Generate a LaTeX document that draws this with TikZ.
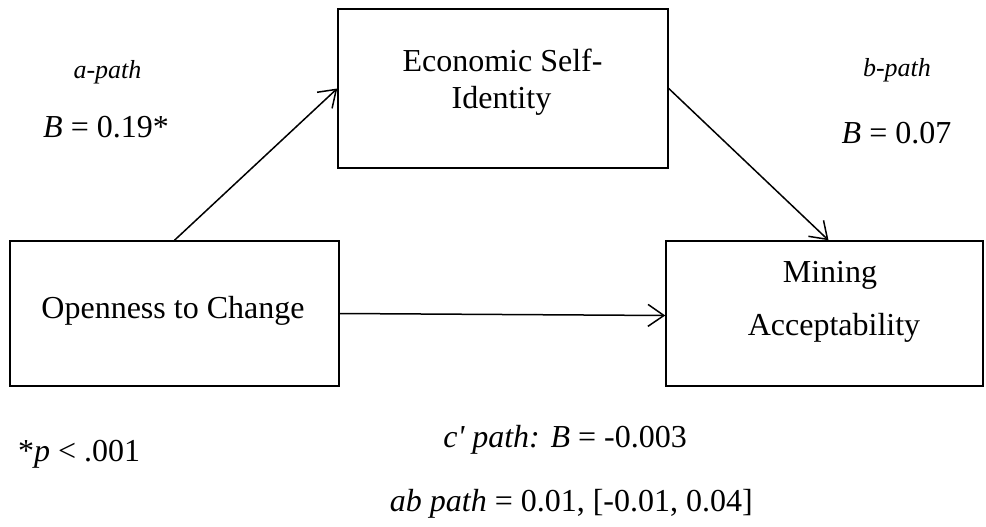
\documentclass[tikz,border=0pt]{standalone}
\usepackage{fontspec}
\setmainfont{Liberation Serif}
\usetikzlibrary{arrows.meta}
\tikzset{
    box/.style={rectangle, draw, line width=1.5pt, inner sep=0pt},
    txt/.style={inner sep=0pt, anchor=base, font=\fontsize{32}{38}\selectfont},
    small/.style={txt, font=\fontsize{26}{31}\selectfont},
    arr/.style={line width=1.5pt, -{Straight Barb[length=16pt, width=22pt, line width=1.5pt]}}
}

\begin{document}
\begin{tikzpicture}[x=1pt, y=-1pt]
  \useasboundingbox (0, 0) rectangle (986, 527);

  \node (esi) [box, minimum width=330pt, minimum height=159pt] at (503, 88.5) {};
  \node (oc) [box, minimum width=329pt, minimum height=145pt] at (174.5, 313.5) {};
  \node (ma) [box, minimum width=317pt, minimum height=145pt] at (824.5, 313.5) {};

  \node (esi1) [txt] at (502.5, 72) {Economic Self-};
  \node (esi2) [txt] at (501.5, 108) {Identity};
  \node (oc1) [txt] at (173, 318) {Openness to Change};
  \node (ma1) [txt] at (830, 282) {Mining};
  \node (ma2) [txt] at (834, 335) {Acceptability};

  \node (apath) [small] at (107.5, 78) {\textit{a-path}};
  \node (aB) [txt] at (106, 137) {\textit{B} = 0.19*};
  \node (bpath) [small] at (897, 77) {\textit{b-path}};
  \node (bB) [txt] at (896.5, 143) {\textit{B} = 0.07};

  \node (pnote) [txt, anchor=base west] at (18, 461) {*\textit{p} < .001};
  \node (cpath) [txt, anchor=base east] at (687, 447) {\textit{c\textquotesingle\ path: B} = -0.003};
  \node (abpath) [txt, anchor=base east] at (753, 511) {\textit{ab path} = 0.01, [-0.01, 0.04]};

  \draw (oc.north) edge [arr] (esi.west);
  \draw (esi.east) edge [arr] ([xshift=4pt]ma.north);
  \draw (oc.east) edge [arr] ([yshift=-2pt]ma.west);
\end{tikzpicture}
\end{document}
